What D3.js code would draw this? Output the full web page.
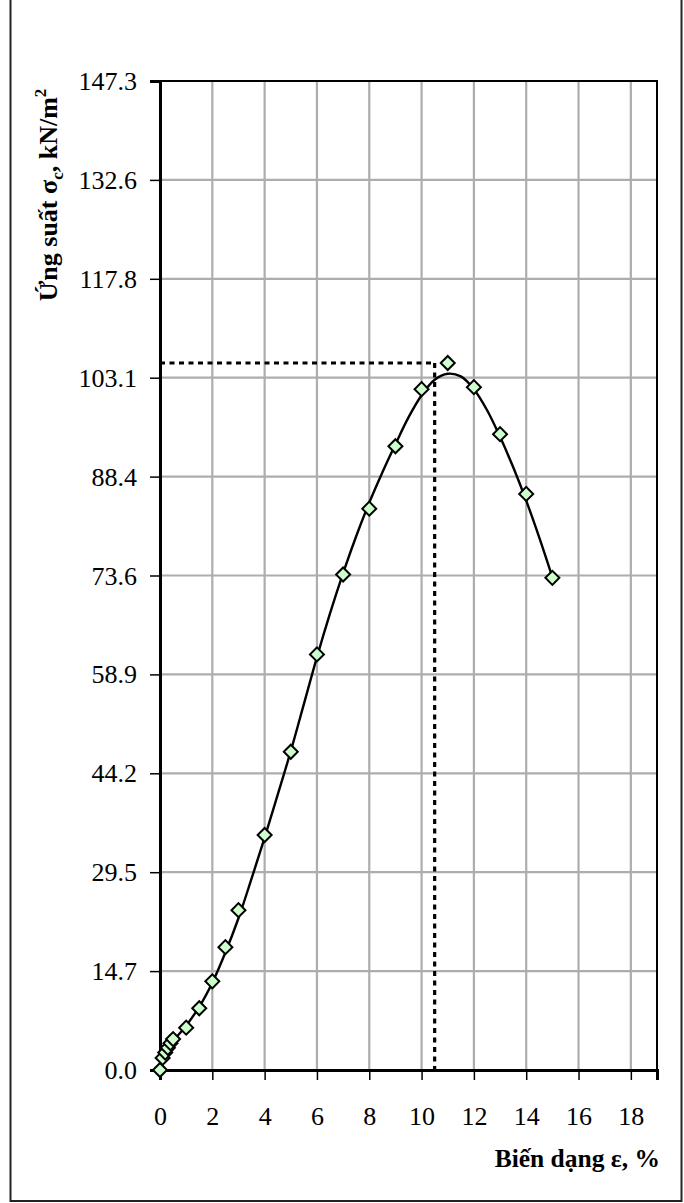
<!DOCTYPE html>
<html>
<head>
<meta charset="utf-8">
<script src="https://cdn.jsdelivr.net/npm/d3@7"></script>
<style>
  html, body { margin: 0; padding: 0; background: #fff; }
  svg { display: block; }
  text { font-family: "Liberation Serif", "Times New Roman", serif; }
</style>
</head>
<body>
<svg id="chart" width="684" height="1203"></svg>
<script>
// ---- data ----
const strain = [0, 0.1, 0.2, 0.3, 0.4, 0.5, 1, 1.5, 2, 2.5, 3, 4, 5, 6, 7, 8, 9, 10, 11, 12, 13, 14, 15];
const stress = [0, 1.8, 2.6, 3.3, 4.0, 4.6, 6.3, 9.2, 13.2, 18.3, 23.8, 35.0, 47.4, 61.9, 73.8, 83.6, 92.9, 101.4, 105.3, 101.7, 94.7, 85.8, 73.3];

// fitted curve as drawn in the reference
const curveStrain = [0, 0.5, 1, 1.5, 2, 2.5, 3, 3.5, 4, 4.5, 5, 5.5, 6, 6.5, 7, 7.5, 8, 8.5, 9, 9.5, 10, 10.5, 11, 11.5, 12, 12.5, 13, 13.5, 14, 14.5, 15];
const curveStress = [0.3, 4.2, 6.6, 9.4, 13.0, 17.5, 22.6, 28.5, 34.6, 41.0, 47.5, 54.5, 61.5, 68.0, 74.0, 79.5, 84.5, 89.0, 93.2, 97.2, 100.5, 102.8, 103.7, 103.3, 101.4, 98.3, 94.3, 89.8, 84.8, 79.3, 73.4];

// peak reference (dotted lines)
const peakStrain = [10.5];
const peakStress = [105.3];

const yTickValues = [0, 14.73, 29.46, 44.19, 58.92, 73.65, 88.38, 103.11, 117.84, 132.57, 147.3];
const yTickLabels = ["0.0", "14.7", "29.5", "44.2", "58.9", "73.6", "88.4", "103.1", "117.8", "132.6", "147.3"];
const xTickValues = [0, 2, 4, 6, 8, 10, 12, 14, 16, 18];
const xTickLabels = ["0", "2", "4", "6", "8", "10", "12", "14", "16", "18"];

const xTitle = "Biến dạng ε, %";

// ---- layout ----
const svg = d3.select("#chart");
const L = 160, R = 657, T = 81, B = 1070;

const x = d3.scaleLinear().domain([0, 19]).range([L, R]);
const y = d3.scaleLinear().domain([0, 147.3]).range([B, T]);

// outer border
svg.append("rect")
  .attr("x", 10.5).attr("y", -3).attr("width", 671).attr("height", 1204)
  .attr("fill", "none").attr("stroke", "#222").attr("stroke-width", 2);

// gridlines
const grid = svg.append("g");
grid.selectAll("line.h").data(yTickValues.slice(1)).enter().append("line")
  .attr("x1", L).attr("x2", R)
  .attr("y1", d => y(d)).attr("y2", d => y(d))
  .attr("stroke", "#adadad").attr("stroke-width", 2.2);
grid.selectAll("line.v").data(xTickValues.slice(1)).enter().append("line")
  .attr("x1", d => x(d)).attr("x2", d => x(d))
  .attr("y1", T).attr("y2", B)
  .attr("stroke", "#adadad").attr("stroke-width", 2.2);

// dotted peak lines
svg.append("line")
  .attr("x1", x(0)).attr("x2", x(peakStrain[0]))
  .attr("y1", y(peakStress[0])).attr("y2", y(peakStress[0]))
  .attr("stroke", "#000").attr("stroke-width", 3.2).attr("stroke-dasharray", "5,4.5");
svg.append("line")
  .attr("x1", x(peakStrain[0])).attr("x2", x(peakStrain[0]))
  .attr("y1", y(peakStress[0])).attr("y2", y(0))
  .attr("stroke", "#000").attr("stroke-width", 3.2).attr("stroke-dasharray", "5,4.5");

// frame (top/right)
svg.append("rect")
  .attr("x", L).attr("y", T).attr("width", R - L).attr("height", B - T)
  .attr("fill", "none").attr("stroke", "#000").attr("stroke-width", 2);

// axes
const yAxis = d3.axisLeft(y).tickValues(yTickValues)
  .tickFormat((d, i) => yTickLabels[i]).tickSize(10).tickPadding(13);
const gy = svg.append("g").attr("transform", `translate(${L},0)`).call(yAxis);
const xAxis = d3.axisBottom(x).tickValues(xTickValues)
  .tickFormat((d, i) => xTickLabels[i]).tickSize(10).tickPadding(27);
const gx = svg.append("g").attr("transform", `translate(0,${B})`).call(xAxis);

[gy, gx].forEach(g => {
  g.attr("font-family", null).attr("font-size", null);
  g.select(".domain").attr("stroke", "#000").attr("stroke-width", 3);
  g.selectAll(".tick line").attr("stroke", "#000").attr("stroke-width", 1.5);
  g.selectAll(".tick text").attr("fill", "#000")
    .style("font-family", '"Liberation Serif", "Times New Roman", serif').style("font-size", "26px");
});
gy.selectAll(".tick text").attr("dy", "0.33em");

// curve
const curvePts = curveStrain.map((e, i) => [e, curveStress[i]]);
svg.append("path")
  .datum(curvePts)
  .attr("d", d3.line().x(d => x(d[0])).y(d => y(d[1])).curve(d3.curveCatmullRom))
  .attr("fill", "none").attr("stroke", "#000").attr("stroke-width", 2.4);

// markers
const pts = strain.map((e, i) => [e, stress[i]]);
svg.append("g").selectAll("path").data(pts).enter().append("path")
  .attr("d", d3.symbol(d3.symbolSquare, 98))
  .attr("transform", d => `translate(${x(d[0])},${y(d[1])}) rotate(45)`)
  .attr("fill", "#ccffcc").attr("stroke", "#000").attr("stroke-width", 2);

// axis titles
svg.append("text")
  .attr("x", 660).attr("y", 1167).attr("text-anchor", "end")
  .style("font-size", "25.5px").style("font-weight", "bold")
  .text(xTitle);

const yt = svg.append("text")
  .attr("transform", "translate(57,195) rotate(-90)")
  .attr("text-anchor", "middle")
  .style("font-size", "26px").style("font-weight", "bold");
yt.append("tspan").text("Ứng suất σ");
yt.append("tspan").attr("dy", 6).style("font-size", "17px").text("c");
yt.append("tspan").attr("dy", -6).text(", kN/m");
yt.append("tspan").attr("dy", -11).style("font-size", "17px").text("2");
</script>
</body>
</html>
